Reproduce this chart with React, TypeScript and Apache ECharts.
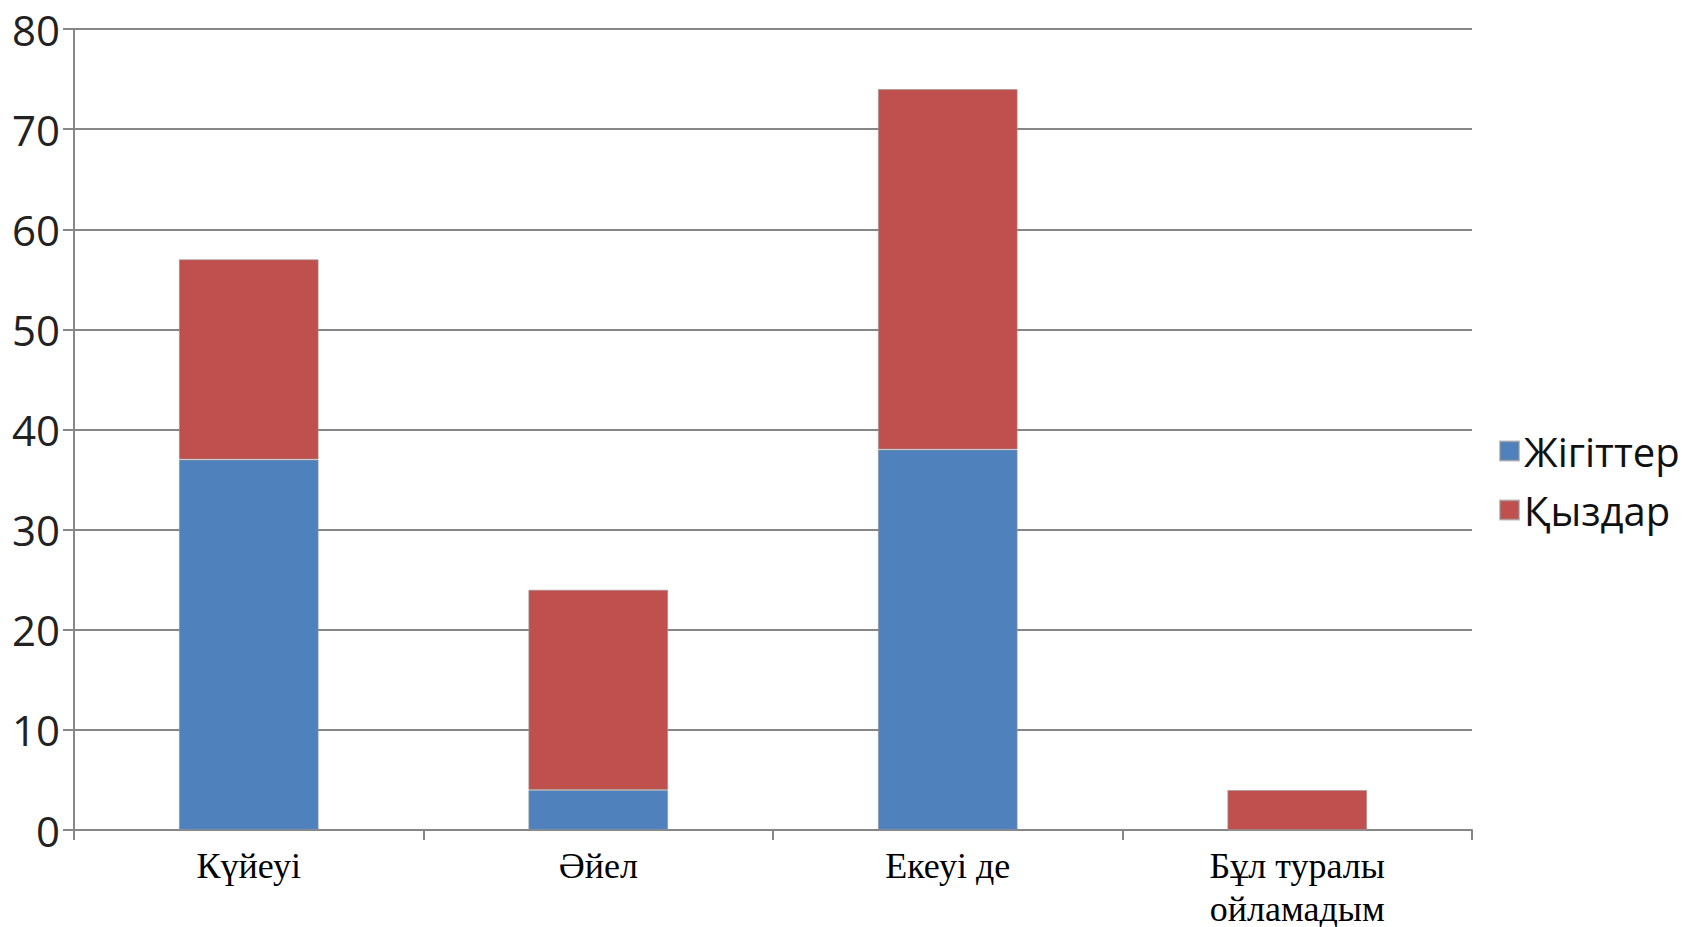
import React, { useEffect, useRef } from "react";
import * as echarts from "echarts";

const categories = ["Күйеуі", "Әйел", "Екеуі де", "Бұл туралы\nойламадым"];
const seriesNames = ["Жігіттер", "Қыздар"];
const boysValues = [37, 4, 38, 0];
const girlsValues = [20, 20, 36, 4];
const colors = ["#4F81BD", "#C0504D"];

export default function App() {
  const ref = useRef<HTMLDivElement>(null);
  useEffect(() => {
    if (!ref.current) return;
    const chart = echarts.init(ref.current, null, { renderer: "svg" });
    const axisGray = "#868686";
    chart.setOption({
      animation: false,
      backgroundColor: "#ffffff",
      grid: { left: 74, right: 218, top: 29, bottom: 97, containLabel: false, outerBoundsMode: "none" },
      legend: {
        orient: "vertical",
        left: 1499,
        top: 431,
        padding: 0,
        icon: "rect",
        itemWidth: 19,
        itemHeight: 19,
        itemGap: 19,
        data: seriesNames,
        textStyle: {
          fontFamily: "Open Sans",
          fontSize: 40,
          color: "#111",
          lineHeight: 40,
          padding: [0, 0, 0, 0],
        },
      },
      xAxis: {
        type: "category",
        data: categories,
        boundaryGap: true,
        axisLine: { show: true, lineStyle: { color: axisGray, width: 2 } },
        axisTick: { show: true, length: 10, alignWithLabel: false, lineStyle: { color: axisGray, width: 2 } },
        axisLabel: {
          margin: 14,
          fontFamily: "Liberation Serif",
          fontSize: 36,
          lineHeight: 43,
          color: "#000",
          interval: 0,
        },
        splitLine: { show: false },
      },
      yAxis: {
        type: "value",
        min: 0,
        max: 80,
        interval: 10,
        axisLine: { show: true, lineStyle: { color: axisGray, width: 2 } },
        axisTick: { show: true, length: 11, lineStyle: { color: axisGray, width: 2 } },
        axisLabel: {
          margin: 14,
          fontFamily: "Open Sans",
          fontSize: 42,
          color: "#222",
        },
        splitLine: { show: true, lineStyle: { color: axisGray, width: 2 } },
      },
      series: [
        {
          name: seriesNames[0],
          type: "bar",
          stack: "total",
          data: boysValues,
          barWidth: "40%",
          itemStyle: { color: colors[0], borderColor: "rgba(150,150,150,0.6)", borderWidth: 1 },
        },
        {
          name: seriesNames[1],
          type: "bar",
          stack: "total",
          data: girlsValues,
          barWidth: "40%",
          itemStyle: { color: colors[1], borderColor: "rgba(150,150,150,0.6)", borderWidth: 1 },
        },
      ],
    });
    return () => chart.dispose();
  }, []);
  return (
    <div
      ref={ref}
      style={{ width: 1690, height: 927, position: "absolute", left: 0, top: 0, background: "#fff" }}
    />
  );
}
